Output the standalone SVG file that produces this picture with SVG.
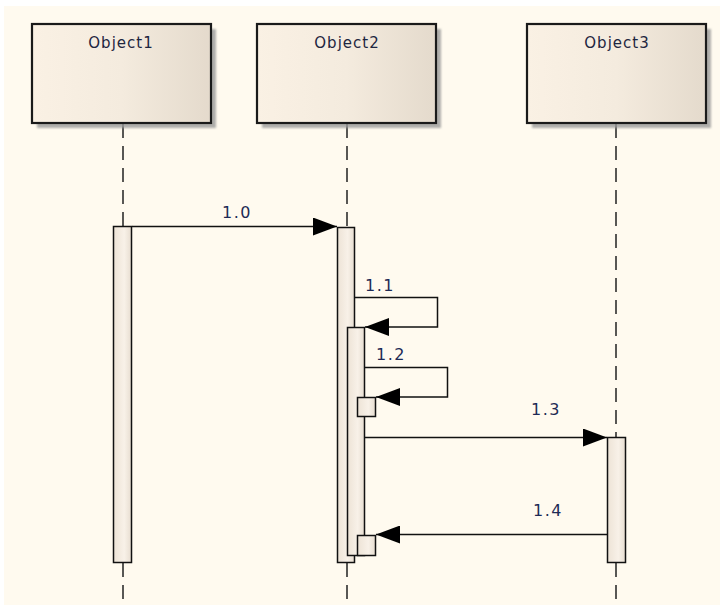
<svg xmlns="http://www.w3.org/2000/svg" width="720" height="605" viewBox="0 0 720 605">
<defs>
<linearGradient id="boxg" x1="0" y1="0" x2="1" y2="0">
<stop offset="0" stop-color="#FAF1E4"/><stop offset="0.5" stop-color="#F4EBDE"/><stop offset="1" stop-color="#E4DACC"/>
</linearGradient>
<linearGradient id="actg" x1="0" y1="0" x2="1" y2="0">
<stop offset="0" stop-color="#EDE3D6"/><stop offset="0.6" stop-color="#F8F1E8"/><stop offset="1" stop-color="#E7DDD0"/>
</linearGradient>
<filter id="blur" x="-10%" y="-10%" width="120%" height="120%"><feGaussianBlur stdDeviation="1.2"/></filter>
<marker id="ah" viewBox="0 0 24 18" refX="24" refY="9" markerWidth="24" markerHeight="18" markerUnits="userSpaceOnUse" orient="auto">
<path d="M0,0 L24,9 L0,18 Z" fill="#000"/>
</marker>
</defs>
<style>
.box{fill:url(#boxg);stroke:#1a1a1a;stroke-width:2.2}
.shadow{fill:#9a9a9a;opacity:0.8;filter:url(#blur)}
.lbl{font-family:"DejaVu Sans","Liberation Sans",sans-serif;font-size:15px;letter-spacing:1px;fill:#1e2640;text-anchor:middle}
.life{stroke:#222;stroke-width:1.5;stroke-dasharray:14 8;fill:none}
.act{fill:url(#actg);stroke:#111;stroke-width:1.5}
.msg{stroke:#111;stroke-width:1.5;fill:none;marker-end:url(#ah)}
.num{font-family:"DejaVu Sans","Liberation Sans",sans-serif;font-size:16px;letter-spacing:1.5px;fill:#1e2a55;text-anchor:middle}
</style>
<rect x="0" y="0" width="720" height="605" fill="#ffffff"/>
<rect x="4" y="6" width="716" height="599" fill="#FFFAEF"/>

<g id="lifelines">
<line class="life" x1="123" y1="124" x2="123" y2="226"/>
<line class="life" x1="123" y1="563" x2="123" y2="605"/>
<line class="life" x1="347" y1="124" x2="347" y2="227"/>
<line class="life" x1="347" y1="563" x2="347" y2="605"/>
<line class="life" x1="616" y1="124" x2="616" y2="437"/>
<line class="life" x1="616" y1="563" x2="616" y2="605"/>
</g>

<g id="Object1">
<rect class="shadow" x="37" y="29" width="179" height="99"/>
<rect class="box" x="32" y="24" width="179" height="99"/>
<text class="lbl" x="121" y="48">Object1</text>
</g>
<g id="Object2">
<rect class="shadow" x="262" y="29" width="179" height="99"/>
<rect class="box" x="257" y="24" width="179" height="99"/>
<text class="lbl" x="347" y="48">Object2</text>
</g>
<g id="Object3">
<rect class="shadow" x="532" y="29" width="179" height="99"/>
<rect class="box" x="527" y="24" width="179" height="99"/>
<text class="lbl" x="617" y="48">Object3</text>
</g>

<g id="activations">
<rect class="act" x="113.5" y="226.5" width="18" height="336"/>
<rect class="act" x="337.5" y="227.5" width="17" height="335"/>
<rect class="act" x="347.5" y="327.5" width="17" height="228"/>
<rect class="act" x="357.5" y="397.5" width="18" height="19"/>
<rect class="act" x="357.5" y="535.5" width="18" height="20"/>
<rect class="act" x="607.5" y="437.5" width="18" height="125"/>
</g>

<g id="connectors">
<line class="msg" x1="132" y1="226.5" x2="337" y2="226.5"/>
<polyline class="msg" points="355,297.5 437.5,297.5 437.5,327 365,327"/>
<polyline class="msg" points="365,367.5 447.5,367.5 447.5,397 376,397"/>
<line class="msg" x1="365" y1="437.5" x2="607" y2="437.5"/>
<line class="msg" x1="607" y1="534.5" x2="376" y2="534.5"/>
</g>

<g id="labels">
<text class="num" x="237" y="218">1.0</text>
<text class="num" x="380" y="291">1.1</text>
<text class="num" x="391" y="360">1.2</text>
<text class="num" x="546" y="415">1.3</text>
<text class="num" x="548" y="516">1.4</text>
</g>
</svg>
